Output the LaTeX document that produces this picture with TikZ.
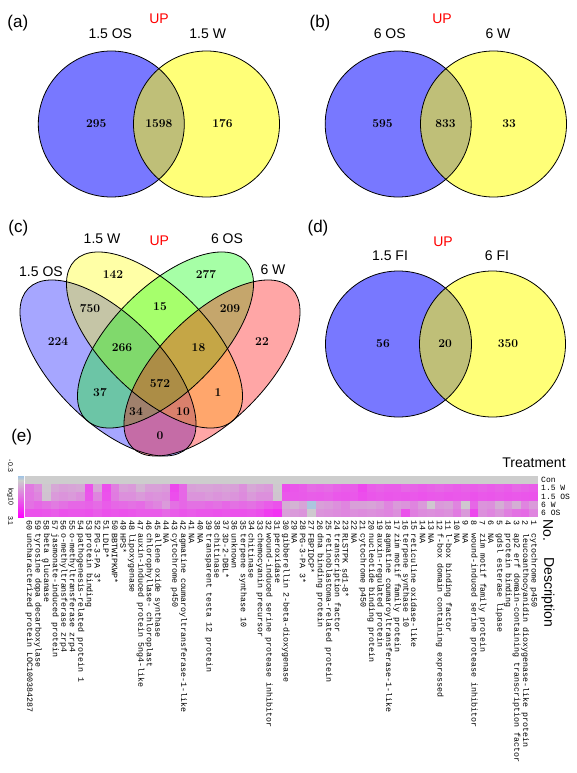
\documentclass[tikz,border=0pt]{standalone}
\usepackage{fontspec}
\newfontfamily\lsans{Liberation Sans}
\newfontfamily\lmono{Liberation Mono}
\definecolor{vblue}{RGB}{0,0,255}
\definecolor{vyel}{RGB}{255,255,0}
\definecolor{vgreen}{RGB}{0,255,0}
\definecolor{vred}{RGB}{255,0,0}
\definecolor{hmgray}{RGB}{205,205,205}
\definecolor{hmmag}{RGB}{255,0,255}
\definecolor{hmneg}{RGB}{160,195,228}
\begin{document}
\begin{tikzpicture}[x=1pt,y=-1pt,
  panel/.style={font=\lsans\fontsize{17}{20}\selectfont, inner sep=0pt},
  setlab/.style={font=\lsans\fontsize{14}{16}\selectfont, inner sep=0pt},
  uplab/.style={setlab, text=red},
  cnt/.style={font=\fontsize{12}{14}\selectfont\bfseries, inner sep=0pt},
  twoset/.style={fill opacity=0.53},
  fourset/.style={fill opacity=0.35},
  outline/.style={draw=black, line width=0.8pt},
  hdr/.style={font=\lsans\fontsize{14}{16}\selectfont, inner sep=0pt},
  tlab/.style={font=\lmono\fontsize{8}{9}\selectfont, inner sep=0pt, anchor=west},
  rlab/.style={font=\lmono\fontsize{8.3}{9}\selectfont, inner sep=0pt, anchor=west, rotate=-90},
  cblab/.style={font=\lsans\fontsize{7}{8}\selectfont, inner sep=0pt, rotate=-90},
]
\useasboundingbox[fill=white] (0,0) rectangle (576,773);

% ---------- panel (a) ----------
\fill[vblue, twoset] (111.3,124) circle (73);
\fill[vyel, twoset] (206.5,124) circle (73);
\draw[outline] (111.3,124) circle (73);
\draw[outline] (206.5,124) circle (73);
\node[panel] (la) at (17.8,23) {(a)};
\node[uplab] (upa) at (159,19) {UP};
\node[setlab] (osa) at (110.3,34) {1.5 OS};
\node[setlab] (wa) at (207.7,34) {1.5 W};
\node[cnt] (na1) at (96.3,124) {295};
\node[cnt] (na2) at (158.8,124) {1598};
\node[cnt] (na3) at (222.5,124) {176};

% ---------- panel (b) ----------
\fill[vblue, twoset] (398.2,124) circle (73);
\fill[vyel, twoset] (493.5,124) circle (73);
\draw[outline] (398.2,124) circle (73);
\draw[outline] (493.5,124) circle (73);
\node[panel] (lb) at (320,23) {(b)};
\node[uplab] (upb) at (442,19) {UP};
\node[setlab] (osb) at (389.7,34) {6 OS};
\node[setlab] (wb) at (498,34) {6 W};
\node[cnt] (nb1) at (382.4,124) {595};
\node[cnt] (nb2) at (445.6,124) {833};
\node[cnt] (nb3) at (509,124) {33};

% ---------- panel (c) ----------
\fill[vblue, fourset, rotate around={-45:(108,368)}] (108,368) ellipse [x radius=112.6, y radius=53];
\fill[vyel, fourset, rotate around={-45:(154.5,340)}] (154.5,340) ellipse [x radius=112.6, y radius=53];
\fill[vgreen, fourset, rotate around={45:(165.5,340)}] (165.5,340) ellipse [x radius=112.6, y radius=53];
\fill[vred, fourset, rotate around={45:(212,368)}] (212,368) ellipse [x radius=112.6, y radius=53];
\draw[outline, rotate around={-45:(108,368)}] (108,368) ellipse [x radius=112.6, y radius=53];
\draw[outline, rotate around={-45:(154.5,340)}] (154.5,340) ellipse [x radius=112.6, y radius=53];
\draw[outline, rotate around={45:(165.5,340)}] (165.5,340) ellipse [x radius=112.6, y radius=53];
\draw[outline, rotate around={45:(212,368)}] (212,368) ellipse [x radius=112.6, y radius=53];
\node[panel] (lc) at (18.3,228.3) {(c)};
\node[uplab] (upc) at (159.3,240.7) {UP};
\node[setlab] (wc) at (102,239) {1.5 W};
\node[setlab] (osc) at (227,239) {6 OS};
\node[setlab] (osc1) at (41,272) {1.5 OS};
\node[setlab] (wc6) at (273,270) {6 W};
\node[cnt] (c142) at (113,275) {142};
\node[cnt] (c277) at (206,275) {277};
\node[cnt] (c750) at (90,309) {750};
\node[cnt] (c15) at (160,307) {15};
\node[cnt] (c209) at (230,309) {209};
\node[cnt] (c224) at (58,342) {224};
\node[cnt] (c266) at (122,348) {266};
\node[cnt] (c18) at (198.5,348) {18};
\node[cnt] (c22) at (262,342) {22};
\node[cnt] (c572) at (160,383.5) {572};
\node[cnt] (c37) at (100,393) {37};
\node[cnt] (c1) at (218,393) {1};
\node[cnt] (c34) at (136,412) {34};
\node[cnt] (c10) at (183,412) {10};
\node[cnt] (c0) at (160,436) {0};

% ---------- panel (d) ----------
\fill[vblue, twoset] (398.5,344) circle (73);
\fill[vyel, twoset] (492.5,344) circle (73);
\draw[outline] (398.5,344) circle (73);
\draw[outline] (492.5,344) circle (73);
\node[panel] (ld) at (318,228) {(d)};
\node[uplab] (upd) at (443,241.7) {UP};
\node[setlab] (fid1) at (390,256) {1.5 FI};
\node[setlab] (fid2) at (497,256) {6 FI};
\node[cnt] (nd1) at (383,344) {56};
\node[cnt] (nd2) at (445,344) {20};
\node[cnt] (nd3) at (508,344) {350};

% ---------- panel (e) ----------
\node[panel] (le) at (21.7,437.3) {(e)};
\fill[hmgray] (25,476) rectangle (538,484.3);
\foreach \r/\vals in {
 1/{40,30,3,18,22,20,18,60,20,62,38,22,25,12,22,22,25,65,50,22,20,20,22,20,22,30,18,22,25,2,62,58,55,48,50,48,52,55,55,65,55,52,55,55,50,52,55,52,50,52,55,52,55,52,55,52,55,50,52,55},
 2/{42,35,5,25,28,25,30,58,35,60,40,30,30,25,30,28,30,62,50,28,28,25,28,25,28,32,25,30,30,4,58,57,56,54,55,53,57,58,57,62,58,56,58,57,58,57,59,57,56,58,57,56,60,57,58,56,58,57,58,59},
 3/{45,50,45,40,45,50,50,52,48,55,50,48,45,48,40,35,25,45,50,45,45,48,45,50,45,48,45,50,55,60,15,12,20,0,22,25,30,35,22,22,20,25,35,25,28,35,25,3,25,22,35,3,50,28,30,15,28,15,35,25},
 4/{60,60,58,55,60,58,58,60,55,60,58,60,58,55,55,55,50,55,58,55,58,58,60,58,60,60,58,62,70,75,22,25,28,2,28,30,32,35,30,32,30,32,35,30,60,38,32,30,32,30,40,25,65,30,35,28,38,45,48,35}}{
  \foreach \v [count=\i] in \vals {
    \fill[hmmag!\v!hmgray] ({25+(\i-1)*8.55},{476+\r*8.2}) rectangle ({25+\i*8.55+0.15},{476+(\r+1)*8.2+0.1});
  }
}
\fill[hmneg!75!hmgray] ({25+33*8.55},{476+3*8.2}) rectangle ({25+34*8.55},{476+4*8.2});
% colour bar
\shade[top color=hmneg, bottom color=hmgray] (18,476) rectangle (24,480.5);
\shade[top color=hmgray, bottom color=hmmag] (18,480.5) rectangle (24,517);
\node[cblab] (cbt) at (10.5,466) {-0.3};
\node[cblab] (cbm) at (10.5,497) {log10};
\node[cblab] (cbb) at (10.5,521) {3.1};
% treatment labels
\node[hdr] (htr) at (534,463) {Treatment};
\node[tlab] (tcon) at (541,480.1) {Con};
\node[tlab] (t15w) at (541,488.3) {1.5 W};
\node[tlab] (t15os) at (541,496.5) {1.5 OS};
\node[tlab] (t6w) at (541,504.7) {6 W};
\node[tlab] (t6os) at (541,512.9) {6 OS};
% headers
\node[hdr, anchor=west, rotate=-90] (hno) at (548,519) {No.};
\node[hdr, anchor=west, rotate=-90] (hdesc) at (548,557) {Description};
% gene labels
\foreach \d [count=\n] in {cytochrome p450,leucoanthocyanidin dioxygenase-like protein,ap2 erf domain-containing transcription factor,protein binding,gdsl esterase lipase,NA,zim motif family protein,wound-induced serine protease inhibitor,NA,NA,l-box binding factor,f-box domain containing expressed,NA,NA,reticuline oxidase-like,terpene synthase 10,zim motif family protein,agmatine coumaroyltransferase-1-like,auxin-regulated protein,nucleotide binding protein,cytochrome p450,NA,RLSTPK sd1-8*,transcription factor,retinoblastoma-related protein,dna binding protein,FBPIDCP*,PG-3-PA 3*,NA,gibberellin 2-beta-dioxygenase,peroxidase,wound-induced serine protease inhibitor,chemocyanin precursor,chitinase,terpene synthase 10,unknown,3D-2-DBL*,chitinase,transparent testa 12 protein,NA,NA,agmatine coumaroyltransferase-1-like,cytochrome p450,NA,allene oxide synthase,chlorophyllase- chloroplast,auxin-induced protein 5ng4-like,lipoxygenase,HPS*,BBTWIPKWP*,LDLP*,PG-3-PA 3*,protein binding,pathogenesis-related protein 1,o-methyltransferase zrp4,o-methyltransferase zrp4,jasmonate-induced protein,beta glucanase,tyrosine dopa decarboxylase,uncharacterized protein LOC100384287} {
  \node[rlab] (k\n) at ({25+(60-\n+0.5)*8.55},520) {\n};
  \node[rlab] (g\n) at ({25+(60-\n+0.5)*8.55},533) {\d};
}
\end{tikzpicture}
\end{document}
